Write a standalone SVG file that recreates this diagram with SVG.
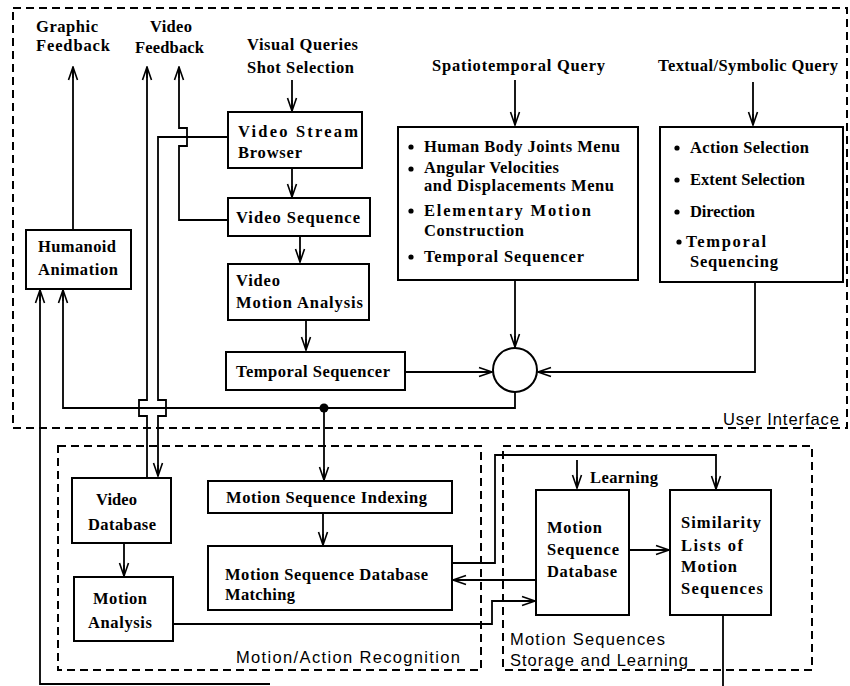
<svg xmlns="http://www.w3.org/2000/svg" width="850" height="686" viewBox="0 0 850 686">
<defs>
<style>
.bg{fill:#fff}
.box{fill:#fff;stroke:#000;stroke-width:2}
.dash{fill:none;stroke:#000;stroke-width:2;stroke-dasharray:8 5}
.ln{fill:none;stroke:#000;stroke-width:1.8}
.t{font-family:"Liberation Serif","Times New Roman",serif;font-weight:bold;font-size:16.5px;fill:#000}
.s{font-family:"Liberation Sans",Arial,sans-serif;font-size:16.5px;fill:#000}
</style>
<marker id="ah" viewBox="-1 -6 15 12" markerWidth="15" markerHeight="12" refX="13" refY="0" orient="auto" markerUnits="userSpaceOnUse">
<path d="M0,-4.5 L13,0 L0,4.5 M2,0 L13,0" fill="none" stroke="#000" stroke-width="1.6"/>
</marker>
</defs>
<rect class="bg" x="0" y="0" width="850" height="686"/>

<g id="groups">
<g id="user-interface">
<rect class="dash" x="13" y="8" width="834" height="420"/>
<text class="s" x="723" y="425" textLength="116">User Interface</text>
</g>
<g id="motion-action-recognition">
<rect class="dash" x="58" y="446" width="423" height="224"/>
<text class="s" x="236" y="663" textLength="224">Motion/Action Recognition</text>
</g>
<g id="storage-learning">
<rect class="dash" x="503" y="446" width="309" height="224"/>
<text class="s" x="510" y="645" textLength="155">Motion Sequences</text>
<text class="s" x="510" y="666" textLength="178">Storage and Learning</text>
</g>
</g>

<g id="labels">
<text class="t" x="36" y="32" textLength="62">Graphic</text>
<text class="t" x="36" y="51" textLength="74">Feedback</text>
<text class="t" x="150" y="32" textLength="42">Video</text>
<text class="t" x="135" y="53" textLength="69">Feedback</text>
<text class="t" x="247" y="50" textLength="111">Visual Queries</text>
<text class="t" x="247" y="73" textLength="107">Shot Selection</text>
<text class="t" x="432" y="71" textLength="173">Spatiotemporal Query</text>
<text class="t" x="658" y="71" textLength="180">Textual/Symbolic Query</text>
<text class="t" x="590" y="483" textLength="68">Learning</text>
</g>

<g id="connectors">
<path class="ln" d="M73,230 V67" marker-end="url(#ah)"/>
<path class="ln" d="M147,478 V416 H139 V400 H147 V67" marker-end="url(#ah)"/>
<path class="ln" d="M228,220 H179 V146 H187 V128 H179 V67" marker-end="url(#ah)"/>
<path class="ln" d="M228,137 H158 V400 H166 V416 H158 V476" marker-end="url(#ah)"/>
<path class="ln" d="M292,80 V111" marker-end="url(#ah)"/>
<path class="ln" d="M292,168 V197" marker-end="url(#ah)"/>
<path class="ln" d="M300,236 V262" marker-end="url(#ah)"/>
<path class="ln" d="M306,320 V350" marker-end="url(#ah)"/>
<path class="ln" d="M515,80 V125" marker-end="url(#ah)"/>
<path class="ln" d="M753,82 V125" marker-end="url(#ah)"/>
<path class="ln" d="M515,281 V347" marker-end="url(#ah)"/>
<path class="ln" d="M405,372 H492" marker-end="url(#ah)"/>
<path class="ln" d="M755,282 V372 H538" marker-end="url(#ah)"/>
<path class="ln" d="M515,392 V408 H63 V290" marker-end="url(#ah)"/>
<circle cx="324" cy="408" r="4.5" fill="#000"/>
<path class="ln" d="M324,408 V480" marker-end="url(#ah)"/>
<path class="ln" d="M270,684 H40 V290" marker-end="url(#ah)"/>
<path class="ln" d="M323,513 V545" marker-end="url(#ah)"/>
<path class="ln" d="M124,543 V576" marker-end="url(#ah)"/>
<path class="ln" d="M173,624 H492 V601 H535" marker-end="url(#ah)"/>
<path class="ln" d="M452,563 H495 V455 H716 V489" marker-end="url(#ah)"/>
<path class="ln" d="M536,580 H453" marker-end="url(#ah)"/>
<path class="ln" d="M577,460 V488" marker-end="url(#ah)"/>
<path class="ln" d="M629,550 H669" marker-end="url(#ah)"/>
<path class="ln" d="M723,615 V686"/>
<circle cx="515" cy="370" r="22" fill="#fff" stroke="#000" stroke-width="2"/>
</g>

<g id="humanoid-animation">
<rect class="box" x="26" y="230" width="105" height="59"/>
<text class="t" x="38" y="252" textLength="78">Humanoid</text>
<text class="t" x="38" y="275" textLength="80">Animation</text>
</g>
<g id="video-stream-browser">
<rect class="box" x="228" y="112" width="134" height="56"/>
<text class="t" x="238" y="137" textLength="120">Video Stream</text>
<text class="t" x="238" y="158" textLength="64">Browser</text>
</g>
<g id="video-sequence">
<rect class="box" x="228" y="198" width="142" height="38"/>
<text class="t" x="236" y="223" textLength="124">Video Sequence</text>
</g>
<g id="video-motion-analysis">
<rect class="box" x="228" y="264" width="141" height="56"/>
<text class="t" x="236" y="286" textLength="44">Video</text>
<text class="t" x="236" y="308" textLength="127">Motion Analysis</text>
</g>
<g id="temporal-sequencer">
<rect class="box" x="226" y="352" width="179" height="38"/>
<text class="t" x="236" y="377" textLength="154">Temporal Sequencer</text>
</g>
<g id="spatiotemporal-menu">
<rect class="box" x="398" y="127" width="240" height="153"/>
<circle cx="411" cy="147" r="2.6"/>
<text class="t" x="424" y="152" textLength="196">Human Body Joints Menu</text>
<circle cx="411" cy="169" r="2.6"/>
<text class="t" x="424" y="173" textLength="135">Angular Velocities</text>
<text class="t" x="424" y="191" textLength="190">and Displacements Menu</text>
<circle cx="411" cy="211" r="2.6"/>
<text class="t" x="424" y="216" textLength="167">Elementary Motion</text>
<text class="t" x="424" y="236" textLength="100">Construction</text>
<circle cx="411" cy="257" r="2.6"/>
<text class="t" x="424" y="262" textLength="160">Temporal Sequencer</text>
</g>
<g id="textual-menu">
<rect class="box" x="660" y="127" width="183" height="155"/>
<circle cx="677" cy="148" r="2.6"/>
<text class="t" x="690" y="153" textLength="119">Action Selection</text>
<circle cx="677" cy="180" r="2.6"/>
<text class="t" x="690" y="185" textLength="115">Extent Selection</text>
<circle cx="677" cy="212" r="2.6"/>
<text class="t" x="690" y="217" textLength="65">Direction</text>
<circle cx="679" cy="242" r="2.6"/>
<text class="t" x="686" y="247" textLength="80">Temporal</text>
<text class="t" x="690" y="267" textLength="88">Sequencing</text>
</g>
<g id="video-database">
<rect class="box" x="72" y="478" width="99" height="65"/>
<text class="t" x="96" y="505" textLength="41">Video</text>
<text class="t" x="88" y="530" textLength="68">Database</text>
</g>
<g id="motion-analysis">
<rect class="box" x="74" y="577" width="99" height="64"/>
<text class="t" x="93" y="604" textLength="54">Motion</text>
<text class="t" x="88" y="628" textLength="64">Analysis</text>
</g>
<g id="motion-sequence-indexing">
<rect class="box" x="208" y="481" width="244" height="32"/>
<text class="t" x="226" y="503" textLength="201">Motion Sequence Indexing</text>
</g>
<g id="motion-sequence-database-matching">
<rect class="box" x="208" y="546" width="244" height="64"/>
<text class="t" x="225" y="580" textLength="203">Motion Sequence Database</text>
<text class="t" x="225" y="600" textLength="70">Matching</text>
</g>
<g id="motion-sequence-database">
<rect class="box" x="536" y="490" width="93" height="125"/>
<text class="t" x="547" y="533" textLength="55">Motion</text>
<text class="t" x="547" y="555" textLength="72">Sequence</text>
<text class="t" x="547" y="577" textLength="70">Database</text>
</g>
<g id="similarity-lists">
<rect class="box" x="670" y="490" width="101" height="125"/>
<text class="t" x="681" y="528" textLength="80">Similarity</text>
<text class="t" x="681" y="551" textLength="62">Lists of</text>
<text class="t" x="681" y="572" textLength="56">Motion</text>
<text class="t" x="681" y="594" textLength="82">Sequences</text>
</g>
</svg>
